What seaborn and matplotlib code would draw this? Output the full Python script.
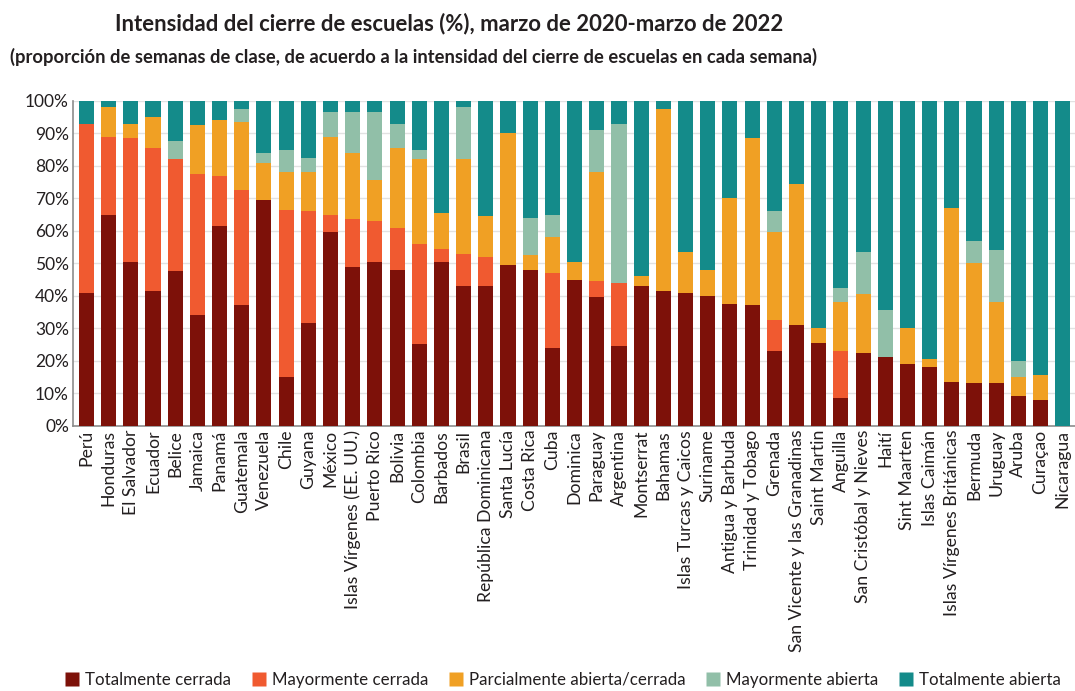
import numpy as np
import pandas as pd
import matplotlib
matplotlib.use("Agg")
import matplotlib.pyplot as plt
import seaborn as sns
from matplotlib.lines import Line2D

# =========================
# DATA
# =========================

countries = [
    "Perú", "Honduras", "El Salvador", "Ecuador", "Belice", "Jamaica", "Panamá",
    "Guatemala", "Venezuela", "Chile", "Guyana", "México", "Islas Vírgenes (EE. UU.)",
    "Puerto Rico", "Bolivia", "Colombia", "Barbados", "Brasil", "República Dominicana",
    "Santa Lucía", "Costa Rica", "Cuba", "Dominica", "Paraguay", "Argentina",
    "Montserrat", "Bahamas", "Islas Turcas y Caicos", "Suriname", "Antigua y Barbuda",
    "Trinidad y Tobago", "Grenada", "San Vicente y las Granadinas", "Saint Martin",
    "Anguilla", "San Cristóbal y Nieves", "Haití", "Sint Maarten", "Islas Caimán",
    "Islas Vírgenes Británicas", "Bermuda", "Uruguay", "Aruba", "Curaçao", "Nicaragua",
]

totalmente_cerrada = [
    41, 65, 50.5, 41.5, 47.5, 34, 61.5, 37, 69.5, 15, 31.5, 59.5, 49, 50.5, 48, 25,
    50.5, 43, 43, 49.5, 48, 24, 45, 39.5, 24.5, 43, 41.5, 41, 40, 37.5, 37, 23, 31,
    25.5, 8.5, 22.5, 21, 19, 18, 13.5, 13, 13, 9, 8, 0,
]
mayormente_cerrada = [
    52, 24, 38, 44, 34.5, 43.5, 15.5, 35.5, 0, 51.5, 34.5, 5.5, 14.5, 12.5, 13, 31,
    4, 10, 9, 0, 0, 23, 0, 5, 19.5, 0, 0, 0, 0, 0, 0, 9.5, 0,
    0, 14.5, 0, 0, 0, 0, 0, 0, 0, 0, 0, 0,
]
parcialmente = [
    0, 9, 4.5, 9.5, 0, 15, 17, 21, 11.5, 11.5, 12, 24, 20.5, 12.5, 24.5, 26,
    11, 29, 12.5, 40.5, 4.5, 11, 5.5, 33.5, 0, 3, 56, 12.5, 8, 32.5, 51.5, 27, 43.5,
    4.5, 15, 18, 0, 11, 2.5, 53.5, 37, 25, 6, 7.5, 0,
]
mayormente_abierta = [
    0, 0, 0, 0, 5.5, 0, 0, 4, 3, 7, 4.5, 7.5, 12.5, 21, 7.5, 3,
    0, 16, 0, 0, 11.5, 7, 0, 13, 49, 0, 0, 0, 0, 0, 0, 6.5, 0,
    0, 4.5, 13, 14.5, 0, 0, 0, 7, 16, 5, 0, 0,
]
totalmente_abierta = [
    7, 2, 7, 5, 12.5, 7.5, 6, 2.5, 16, 15, 17.5, 3.5, 3.5, 3.5, 7, 15,
    34.5, 2, 35.5, 10, 36, 35, 49.5, 9, 7, 54, 2.5, 46.5, 52, 30, 11.5, 34, 25.5,
    70, 57.5, 46.5, 64.5, 70, 79.5, 33, 43, 46, 80, 84.5, 100,
]

categories = [
    "Totalmente cerrada", "Mayormente cerrada", "Parcialmente abierta/cerrada",
    "Mayormente abierta", "Totalmente abierta",
]
colors = ["#7d1109", "#f05a30", "#f0a024", "#91bfa8", "#148b8a"]

df = pd.DataFrame({
    "pais": countries,
    categories[0]: totalmente_cerrada,
    categories[1]: mayormente_cerrada,
    categories[2]: parcialmente,
    categories[3]: mayormente_abierta,
    categories[4]: totalmente_abierta,
})

# cumulative tops, drawn from the top segment down
cum = df[categories].cumsum(axis=1)
cum["pais"] = df["pais"]

# =========================
# PLOT
# =========================

sns.set_theme(style="white")
plt.rcParams["font.family"] = ["Lato", "DejaVu Sans"]
text_col = "#231f20"

fig = plt.figure(figsize=(10.75, 6.91), dpi=100)
ax = fig.add_axes([0.068, 0.384, 0.932, 0.470])

for cat, col in zip(reversed(categories), reversed(colors)):
    sns.barplot(
        x="pais", y=cat, data=cum,
        color=col, width=0.68, saturation=1, ax=ax,
        edgecolor="none", zorder=3,
    )

ax.set_ylim(0, 100)
ax.set_xlim(-0.6, len(countries) - 0.45)
ax.set_yticks(np.arange(0, 101, 10))
ax.set_yticklabels([f"{v}%" for v in range(0, 101, 10)], fontsize=12.5, color=text_col)
ax.set_xticks(range(len(countries)))
ax.set_xticklabels(countries, rotation=90, fontsize=12.7, color=text_col)
ax.tick_params(axis="both", length=0, pad=3)
ax.set_xlabel("")
ax.set_ylabel("")

ax.yaxis.grid(True, color="#e2e2e2", linewidth=1, zorder=0)
ax.set_axisbelow(True)
for s in ["top", "right"]:
    ax.spines[s].set_visible(False)
ax.spines["left"].set_color("#8c8c8c")
ax.spines["bottom"].set_color("#8c8c8c")
ax.spines["left"].set_linewidth(1.2)
ax.spines["bottom"].set_linewidth(1.2)

fig.text(0.418, 0.966, "Intensidad del cierre de escuelas (%), marzo de 2020-marzo de 2022",
         ha="center", va="center", fontsize=15.9, fontweight="bold", color=text_col)
fig.text(0.009, 0.918,
         "(proporción de semanas de clase, de acuerdo a la intensidad del cierre de escuelas en cada semana)",
         ha="left", va="center", fontsize=13.2, fontweight="bold", color=text_col)

handles = [Line2D([0], [0], marker="s", linestyle="none", markersize=10,
                  markerfacecolor=c, markeredgecolor="none") for c in colors]
fig.legend(handles, categories, loc="center", bbox_to_anchor=(0.523, 0.016),
           ncol=5, frameon=False, fontsize=12.2, handletextpad=0.25, columnspacing=1.15,
           handlelength=1.0, labelcolor=text_col, borderpad=0)

plt.savefig("out.png", dpi=100)
plt.close()
